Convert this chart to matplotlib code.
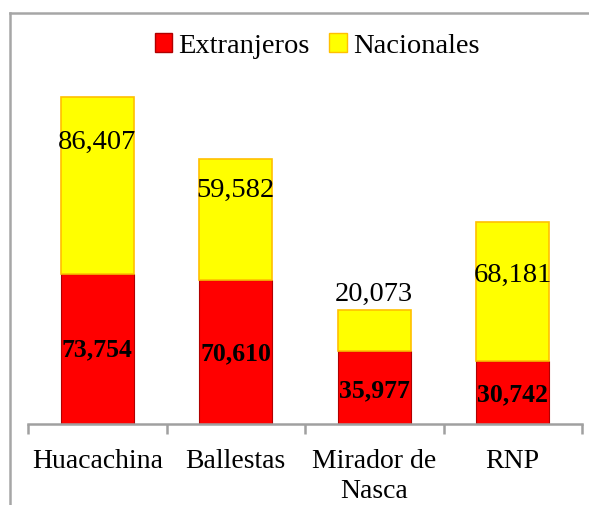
import matplotlib.pyplot as plt
from matplotlib.patches import Patch
from matplotlib.lines import Line2D
import numpy as np

# ── data ──────────────────────────────────────────────────────────
sitios = ["Huacachina", "Ballestas", "Mirador de\nNasca", "RNP"]
extranjeros = [73754, 70610, 35977, 30742]
nacionales = [86407, 59582, 20073, 68181]

# label nudges (pixels, from centre of segment)
nac_nudge = [37, 22, 29, 10]
ext_nudge = [-8, -8, -10, -9]

plt.rcParams["font.family"] = ["Liberation Serif", "DejaVu Serif"]

fig = plt.figure(figsize=(5.89, 5.05), dpi=100)
ax = fig.add_axes([28/589, 81/505, 554/589, 367/505])

x = np.arange(len(sitios))
w = 0.53
b1 = ax.bar(x, extranjeros, w, color="#ff0000", edgecolor="#b00000", linewidth=0.8)
b2 = ax.bar(x, nacionales, w, bottom=extranjeros, color="#ffff00",
            edgecolor="#ffc000", linewidth=1.2)

for i in range(len(sitios)):
    ax.annotate(f"{extranjeros[i]:,}", (x[i], extranjeros[i] / 2),
                xytext=(0, ext_nudge[i]), textcoords="offset pixels",
                ha="center", va="baseline", fontsize=18.5, fontweight="bold")
    ax.annotate(f"{nacionales[i]:,}", (x[i], extranjeros[i] + nacionales[i] / 2),
                xytext=(0, nac_nudge[i]), textcoords="offset pixels",
                ha="center", va="baseline", fontsize=20.5)

ax.set_xlim(-0.5, len(sitios) - 0.5)
ax.set_ylim(0, 180000)
ax.set_xticks(np.arange(len(sitios) + 1) - 0.5)
ax.set_xticklabels([])
ax.set_xticks(x, minor=True)
ax.set_xticklabels(sitios, minor=True, fontsize=20, linespacing=1.25)
ax.tick_params(axis="x", which="major", length=7.5, width=1.8, color="#a0a0a0")
ax.tick_params(axis="x", which="minor", length=0, pad=18)
ax.set_yticks([])
for s in ["top", "right", "left"]:
    ax.spines[s].set_visible(False)
ax.spines["bottom"].set_color("#a0a0a0")
ax.spines["bottom"].set_linewidth(1.8)

# outer frame (cut off at right and bottom)
fig.add_artist(Line2D([10/589, 10/589], [0, 1 - 13/505], transform=fig.transFigure,
                      color="#a6a6a6", lw=1.8))
fig.add_artist(Line2D([10/589, 1], [1 - 13/505, 1 - 13/505], transform=fig.transFigure,
                      color="#a6a6a6", lw=1.8))

handles = [Patch(facecolor="#ff0000", edgecolor="#b00000", label="Extranjeros"),
           Patch(facecolor="#ffff00", edgecolor="#ffc000", label="Nacionales")]
fig.legend(handles=handles, loc="center", bbox_to_anchor=(317/589, 1 - 46/505),
           ncol=2, frameon=False, fontsize=20.5, handlelength=0.62, handleheight=0.62,
           handletextpad=0.2, columnspacing=0.7, borderpad=0)

fig.savefig("out.png", dpi=100)
